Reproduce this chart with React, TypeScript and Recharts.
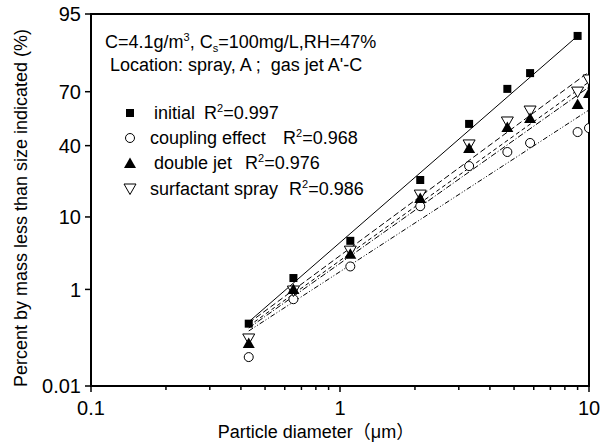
import { ScatterChart, Scatter, XAxis, YAxis, ReferenceArea } from 'recharts'

// particle diameters (um) where the cumulative mass fractions were measured
const diameters = [0.43, 0.65, 1.1, 2.1, 3.3, 4.7, 5.8, 9, 10]

// cumulative percent by mass
const initialPct = [0.24, 1.53, 5.2, 22.7, 52.4, 71.4, 78.6, 90.8]
const couplingPct = [0.048, 0.68, 2.3, 13, 29.2, 36.5, 41.5, 47.7, 50]
const doubleJetPct = [0.097, 1.02, 3.5, 15.7, 38.7, 50.6, 55.8, 63.6, 69.4]
const surfactantPct = [0.118, 0.94, 3.8, 16.7, 40.4, 53.5, 59.7, 69.8, 75.6]

// fitted lines, end points
const fitInitialX = [0.43, 9]
const fitInitialPct = [0.26, 90.8]
const fitSurfactantX = [0.43, 10]
const fitSurfactantPct = [0.247, 79.1]
const fitDoubleJetX = [0.43, 10]
const fitDoubleJetPct = [0.216, 74.7]
const fitExtraX = [0.43, 10]
const fitExtraPct = [0.197, 72.3]
const fitCouplingX = [0.43, 10]
const fitCouplingPct = [0.172, 60.3]

const yTickPct = [0.01, 1, 10, 40, 70, 95]
const xTicks = [0.1, 0.2, 0.3, 0.4, 0.5, 0.6, 0.7, 0.8, 0.9, 1, 2, 3, 4, 5, 6, 7, 8, 9, 10]
const xTickLabels = ['0.1', '1', '10']

const FONT = '"Liberation Sans", Arial, "Noto Sans CJK SC", sans-serif'

// inverse normal CDF (Acklam) - probability axis transform
function probit(p: number) {
  const a = [-39.69683028665376, 220.9460984245205, -275.9285104469687, 138.357751867269, -30.66479806614716, 2.506628277459239]
  const b = [-54.47609879822406, 161.5858368580409, -155.6989798598866, 66.80131188771972, -13.28068155288572]
  const c = [-0.007784894002430293, -0.3223964580411365, -2.400758277161838, -2.549732539343734, 4.374664141464968, 2.938163982698783]
  const d = [0.007784695709041462, 0.3224671290700398, 2.445134137142996, 3.754408661907416]
  const pl = 0.02425
  if (p < pl) {
    const q = Math.sqrt(-2 * Math.log(p))
    return (((((c[0] * q + c[1]) * q + c[2]) * q + c[3]) * q + c[4]) * q + c[5]) / ((((d[0] * q + d[1]) * q + d[2]) * q + d[3]) * q + 1)
  }
  if (p > 1 - pl) {
    const q = Math.sqrt(-2 * Math.log(1 - p))
    return -(((((c[0] * q + c[1]) * q + c[2]) * q + c[3]) * q + c[4]) * q + c[5]) / ((((d[0] * q + d[1]) * q + d[2]) * q + d[3]) * q + 1)
  }
  const q = p - 0.5
  const r = q * q
  return ((((((a[0] * r + a[1]) * r + a[2]) * r + a[3]) * r + a[4]) * r + a[5]) * q) / (((((b[0] * r + b[1]) * r + b[2]) * r + b[3]) * r + b[4]) * r + 1)
}

const z = (pct: number) => probit(pct / 100)
const toPoints = (xs: number[], pcts: number[]) => pcts.map((p, i) => ({ x: xs[i], z: z(p) }))

const yTicks = yTickPct.map(z)
const yDomain = [z(0.01), z(95)]

const Square = (p: any) => <rect x={p.cx - 4} y={p.cy - 4} width={8} height={8} fill="#000" />
const Circle = (p: any) => <circle cx={p.cx} cy={p.cy} r={4.5} fill="#fff" stroke="#000" strokeWidth={1} />
const TriUp = (p: any) => (
  <path d={`M${p.cx},${p.cy - 5.5} L${p.cx + 6},${p.cy + 5} L${p.cx - 6},${p.cy + 5} Z`} fill="#000" />
)
const TriDown = (p: any) => (
  <path d={`M${p.cx - 6},${p.cy - 5} L${p.cx + 6},${p.cy - 5} L${p.cx},${p.cy + 5.5} Z`} fill="#fff" stroke="#000" strokeWidth={1} />
)
const NoDot = () => <g />

function XTick({ x, y, payload }: any) {
  const v = payload.value
  const label = xTickLabels.find((l) => Number(l) === v)
  return (
    <g>
      <line x1={x} x2={x} y1={y} y2={y + (label ? 6 : 4)} stroke="#000" strokeWidth={1.5} />
      {label && (
        <text x={x} y={y + 29} textAnchor="middle" fontSize={20} fontFamily={FONT} fill="#000">
          {label}
        </text>
      )}
    </g>
  )
}

function YTick({ x, y, payload }: any) {
  const i = yTicks.findIndex((t) => Math.abs(t - payload.value) < 1e-6)
  return (
    <g>
      <line x1={x - 6} x2={x} y1={y} y2={y} stroke="#000" strokeWidth={1.5} />
      <text x={x - 10} y={y} dy="0.36em" textAnchor="end" fontSize={20} fontFamily={FONT} fill="#000">
        {yTickPct[i]}
      </text>
    </g>
  )
}

const fitLine = (dash?: string) => ({ stroke: '#000', strokeWidth: 1, strokeDasharray: dash })

export default function App() {
  return (
    <div style={{ position: 'absolute', left: 0, top: 0, width: 600, height: 446, background: '#fff' }}>
      <ScatterChart width={600} height={446} margin={{ top: 14, right: 11, bottom: 0, left: 0 }}>
        <XAxis
          dataKey="x"
          type="number"
          scale="log"
          domain={[0.1, 10]}
          ticks={xTicks}
          interval={0}
          allowDataOverflow
          height={60}
          tickSize={0}
          tickMargin={0}
          tickLine={false}
          tick={<XTick />}
          axisLine={{ stroke: '#000', strokeWidth: 2 }}
        />
        <YAxis
          dataKey="z"
          type="number"
          domain={yDomain}
          ticks={yTicks}
          interval={0}
          allowDataOverflow
          width={91}
          tickSize={0}
          tickMargin={0}
          tickLine={false}
          tick={<YTick />}
          axisLine={{ stroke: '#000', strokeWidth: 2 }}
        />
        <ReferenceArea
          x1={0.1}
          x2={10}
          y1={yDomain[0]}
          y2={yDomain[1]}
          fill="none"
          fillOpacity={0}
          stroke="#000"
          strokeWidth={2}
        />
        <Scatter data={toPoints(fitInitialX, fitInitialPct)} line={fitLine()} shape={NoDot} isAnimationActive={false} />
        <Scatter data={toPoints(fitSurfactantX, fitSurfactantPct)} line={fitLine('6 3')} shape={NoDot} isAnimationActive={false} />
        <Scatter data={toPoints(fitDoubleJetX, fitDoubleJetPct)} line={fitLine('4 3')} shape={NoDot} isAnimationActive={false} />
        <Scatter data={toPoints(fitExtraX, fitExtraPct)} line={fitLine('6 2 1 2')} shape={NoDot} isAnimationActive={false} />
        <Scatter data={toPoints(fitCouplingX, fitCouplingPct)} line={fitLine('5 2 1 2 1 2')} shape={NoDot} isAnimationActive={false} />
        <Scatter data={toPoints(diameters, couplingPct)} shape={Circle} isAnimationActive={false} />
        <Scatter data={toPoints(diameters, surfactantPct)} shape={TriDown} isAnimationActive={false} />
        <Scatter data={toPoints(diameters, doubleJetPct)} shape={TriUp} isAnimationActive={false} />
        <Scatter data={toPoints(diameters, initialPct)} shape={Square} isAnimationActive={false} />
      </ScatterChart>

      <svg width={600} height={446} style={{ position: 'absolute', left: 0, top: 0, pointerEvents: 'none' }} fontFamily={FONT} fill="#000">
        <text x={105} y={48} fontSize={18}>
          C=4.1g/m<tspan fontSize={11} dy={-7}>3</tspan>
          <tspan dy={7}>, C</tspan>
          <tspan fontSize={11} dy={4}>s</tspan>
          <tspan dy={-4}>=100mg/L,RH=47%</tspan>
        </text>
        <text x={110} y={71} fontSize={18} style={{ whiteSpace: 'pre' }}>
          {"Location: spray, A ;  gas jet A'-C"}
        </text>

        <rect x={126} y={109} width={8} height={8} fill="#000" />
        <text x={154} y={119} fontSize={18}>initial</text>
        <text x={204} y={119} fontSize={18}>
          R<tspan fontSize={11} dy={-7}>2</tspan>
          <tspan dy={7}>=0.997</tspan>
        </text>

        <circle cx={130} cy={138} r={4.5} fill="#fff" stroke="#000" />
        <text x={150} y={144} fontSize={18}>coupling effect</text>
        <text x={283} y={144} fontSize={18}>
          R<tspan fontSize={11} dy={-7}>2</tspan>
          <tspan dy={7}>=0.968</tspan>
        </text>

        <path d="M130,157.5 L136,168 L124,168 Z" fill="#000" />
        <text x={154} y={169} fontSize={18}>double jet</text>
        <text x={245} y={169} fontSize={18}>
          R<tspan fontSize={11} dy={-7}>2</tspan>
          <tspan dy={7}>=0.976</tspan>
        </text>

        <path d="M124,184 L136,184 L130,194.5 Z" fill="#fff" stroke="#000" />
        <text x={150} y={195} fontSize={18}>surfactant spray</text>
        <text x={289} y={195} fontSize={18}>
          R<tspan fontSize={11} dy={-7}>2</tspan>
          <tspan dy={7}>=0.986</tspan>
        </text>

        <text x={316} y={438} fontSize={18} textAnchor="middle">
          Particle diameter（μm）
        </text>
        <text transform="translate(27,208) rotate(-90)" fontSize={18} textAnchor="middle">
          Percent by mass less than size indicated (%)
        </text>
      </svg>
    </div>
  )
}
